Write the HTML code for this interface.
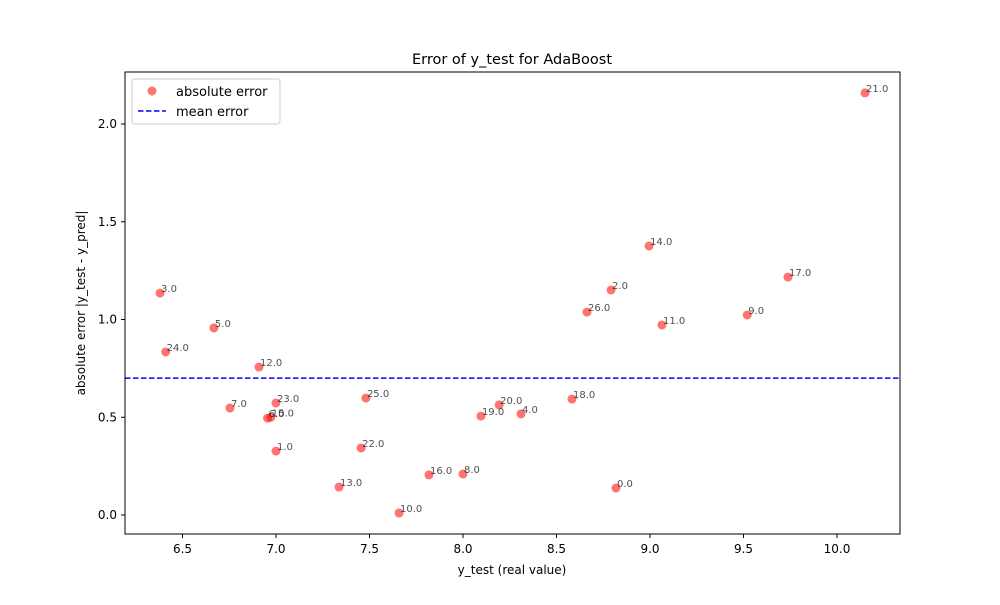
<!DOCTYPE html>
<html><head><meta charset="utf-8"><style>
html,body{margin:0;padding:0;background:#fff;}
svg text{font-family:"DejaVu Sans","Liberation Sans",sans-serif;}
</style></head><body>
<svg id="chart" width="1000" height="600" xmlns="http://www.w3.org/2000/svg">
<rect width="1000" height="600" fill="#fff"/>
<text x="512" y="64" font-size="14.5" text-anchor="middle" fill="#000">Error of y_test for AdaBoost</text>
<g id="plot"></g>
<rect x="125" y="72" width="775" height="462" fill="none" stroke="#000" stroke-width="1"/>
<text x="512" y="574" font-size="12" text-anchor="middle">y_test (real value)</text>
<text transform="translate(85,303) rotate(-90)" font-size="12" text-anchor="middle">absolute error |y_test - y_pred|</text>
<g>
<rect x="132" y="79" width="148" height="45" rx="3" fill="#fff" fill-opacity="0.8" stroke="#ccc"/>
<circle cx="152" cy="91" r="4.5" fill="red" fill-opacity="0.55"/>
<text x="176" y="96" font-size="13">absolute error</text>
<line x1="138" y1="111" x2="166" y2="111" stroke="blue" stroke-width="1.5" stroke-dasharray="5.5,2.5"/>
<text x="176" y="116" font-size="13">mean error</text>
</g>
</svg>
<script>
const yTest=[8.818,7.0,8.792,6.38,8.31,6.668,6.955,6.754,8.0,9.52,7.658,9.064,6.909,7.337,8.995,6.972,7.818,9.738,8.583,8.096,8.193,10.15,7.455,7.0,6.41,7.481,8.663];
const absErr=[0.138,0.327,1.151,1.135,0.517,0.957,0.495,0.547,0.21,1.023,0.01,0.972,0.757,0.143,1.376,0.50,0.205,1.217,0.593,0.506,0.563,2.159,0.343,0.573,0.834,0.598,1.038];
const pointLabels=["0.0","1.0","2.0","3.0","4.0","5.0","6.0","7.0","8.0","9.0","10.0","11.0","12.0","13.0","14.0","15.0","16.0","17.0","18.0","19.0","20.0","21.0","22.0","23.0","24.0","25.0","26.0"];
const meanError=[0.70];
const xTicks=[6.5,7.0,7.5,8.0,8.5,9.0,9.5,10.0];
const yTicks=[0.0,0.5,1.0,1.5,2.0];
const NS="http://www.w3.org/2000/svg";
const X=v=>182.5+(v-6.5)*187;
const Y=v=>515-v*195.5;
const g=document.getElementById('plot');
function mk(t,a){const e=document.createElementNS(NS,t);for(const k in a)e.setAttribute(k,a[k]);return e;}
xTicks.forEach(t=>{
 const l=mk('line',{x1:X(t),x2:X(t),y1:534,y2:538,stroke:'#000'});
 
 
 g.appendChild(l);
 const tx=mk('text',{x:X(t),y:553,'font-size':12,'text-anchor':'middle'});tx.textContent=t.toFixed(1);
 
 
 g.appendChild(tx);
});
yTicks.forEach(t=>{
 const l=mk('line',{x1:121,x2:125,y1:Y(t),y2:Y(t),stroke:'#000'});
 
 
 g.appendChild(l);
 const tx=mk('text',{x:117,y:Y(t)+4,'font-size':12,'text-anchor':'end'});tx.textContent=t.toFixed(1);
 
 
 g.appendChild(tx);
});
const ml=mk('line',{x1:125,x2:900,y1:Y(meanError[0]),y2:Y(meanError[0]),stroke:'blue','stroke-width':1.5,'stroke-dasharray':'5.5,2.5'});


g.appendChild(ml);
yTest.forEach((v,i)=>{
 const c=mk('circle',{cx:X(v),cy:Y(absErr[i]),r:4.5,fill:'red','fill-opacity':0.55});
 
 
 g.appendChild(c);
});
yTest.forEach((v,i)=>{
 const t=mk('text',{x:X(v)+1,y:Y(absErr[i])-1,'font-size':10,fill:'#000','fill-opacity':0.7});t.textContent=pointLabels[i];
 
 
 g.appendChild(t);
});
</script>
</body></html>
